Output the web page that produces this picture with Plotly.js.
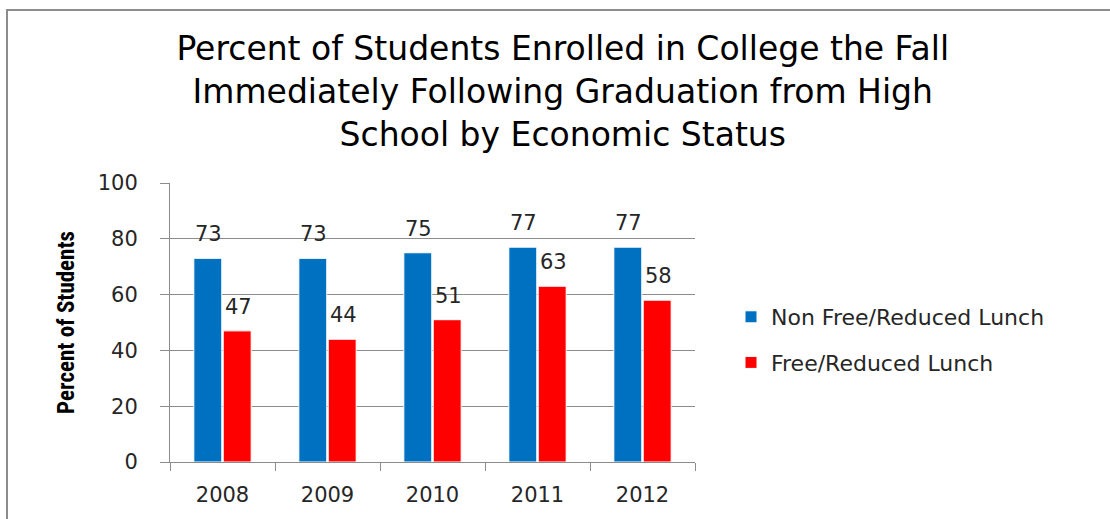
<!DOCTYPE html>
<html>
<head>
<meta charset="utf-8">
<script src="https://cdn.plot.ly/plotly-3.0.1.min.js"></script>
<style>
  html, body { margin: 0; padding: 0; background: #fff; }
  #wrap { position: relative; width: 1110px; height: 519px; overflow: hidden; }
  #chart { position: absolute; left: 0; top: 0; width: 1110px; height: 519px; }
  #frame { position: absolute; left: 6px; top: 9px; width: 1120px; height: 530px; border: 2px solid #8c8c8c; box-sizing: border-box; pointer-events: none; }
</style>
</head>
<body>
<div id="wrap">
  <div id="chart"></div>
  <div id="frame"></div>
</div>
<script>
const years = ['2008', '2009', '2010', '2011', '2012'];
const nonFreeLunch = [73, 73, 75, 77, 77];
const freeLunch = [47, 44, 51, 63, 58];
const seriesNames = ['Non Free/Reduced Lunch', 'Free/Reduced Lunch'];
const seriesColors = ['#0070C0', '#FF0000'];
const titleText = 'Percent of Students Enrolled in College the Fall<br>Immediately Following Graduation from High<br>School by Economic Status';
const yTitle = 'Percent of Students';

const labelFont = { family: 'DejaVu Sans, Verdana, sans-serif', size: 21, color: '#262626' };

const traces = [nonFreeLunch, freeLunch].map((vals, i) => ({
  type: 'bar',
  x: years,
  y: vals,
  name: seriesNames[i],
  legendgroup: 'g' + i,
  marker: { color: seriesColors[i], line: { color: '#ffffff', width: 1 } },
  hoverinfo: 'x+y'
}));

const annotations = [];
[nonFreeLunch, freeLunch].forEach((vals, i) => {
  vals.forEach((v, j) => {
    annotations.push({
      x: j, y: v, xref: 'x', yref: 'y',
      text: String(v), showarrow: false,
      xshift: i === 0 ? -14.5 : 15.5, yshift: 24,
      yanchor: 'middle', xanchor: 'center',
      font: labelFont
    });
  });
});

const layout = {
  width: 1110, height: 519,
  margin: { l: 170, r: 415, t: 183, b: 57 },
  paper_bgcolor: 'rgba(0,0,0,0)',
  plot_bgcolor: '#ffffff',
  barmode: 'group',
  bargap: 0.44,
  bargroupgap: 0.05,
  title: {
    text: titleText,
    font: { family: 'DejaVu Sans, Noto Sans, sans-serif', size: 33, color: '#000000' },
    xref: 'container', yref: 'container',
    x: 0.507, xanchor: 'center',
    y: 1 - 60 / 519, yanchor: 'top'
  },
  xaxis: {
    type: 'category',
    categoryorder: 'array', categoryarray: years,
    range: [-0.5, years.length - 0.5],
    showline: true, linecolor: '#8c8c8c', linewidth: 1,
    ticks: 'outside', tickson: 'boundaries', ticklen: 8, tickcolor: '#8c8c8c',
    ticklabelstandoff: 14,
    tickfont: labelFont,
    showgrid: false,
    fixedrange: true
  },
  yaxis: {
    range: [0, 100],
    dtick: 20,
    showline: true, linecolor: '#8c8c8c', linewidth: 1,
    ticks: 'outside', ticklen: 9, tickcolor: '#8c8c8c',
    ticklabelstandoff: 18,
    tickfont: labelFont,
    showgrid: true, gridcolor: '#8c8c8c', gridwidth: 1,
    zeroline: false,
    title: {
      text: '<b>' + yTitle + '</b>',
      font: { family: 'Liberation Sans Narrow, Roboto Condensed, Arial Narrow, sans-serif', size: 23, color: '#000000' },
      standoff: 16
    },
    fixedrange: true
  },
  legend: {
    xref: 'container', yref: 'container',
    x: 731 / 1110, xanchor: 'left',
    y: 1 - 296 / 519, yanchor: 'top',
    font: { family: 'DejaVu Sans, Verdana, sans-serif', size: 22, color: '#262626' },
    traceorder: 'grouped',
    tracegroupgap: 14,
    bgcolor: 'rgba(0,0,0,0)'
  },
  annotations: annotations,
  showlegend: true
};

Plotly.newPlot('chart', traces, layout, { displayModeBar: false, staticPlot: true });
</script>
</body>
</html>
